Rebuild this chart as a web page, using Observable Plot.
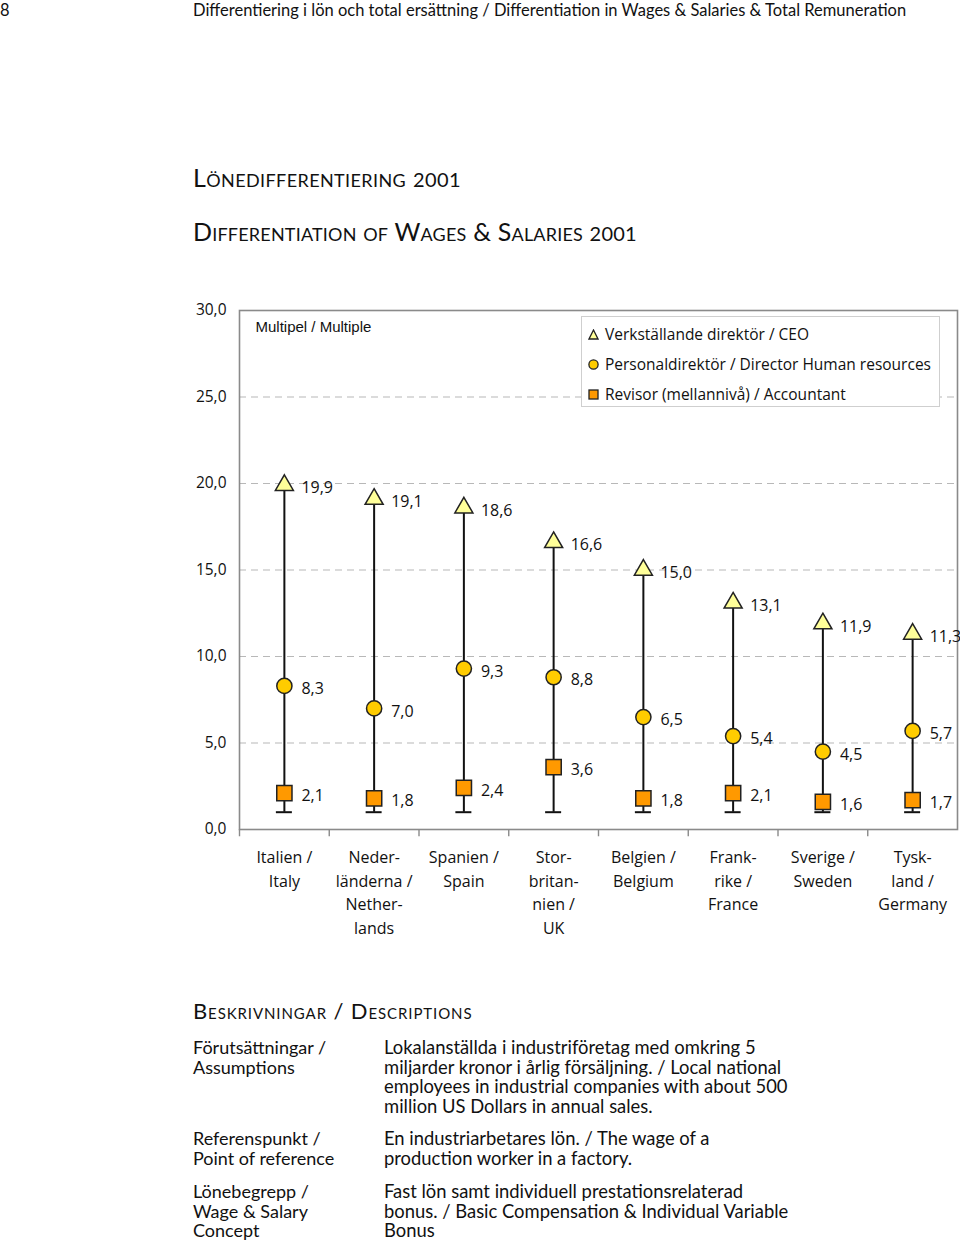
<!DOCTYPE html>
<html><head><meta charset="utf-8">
<script src="https://cdn.jsdelivr.net/npm/d3@7"></script>
<script src="https://cdn.jsdelivr.net/npm/@observablehq/plot@0.6"></script>
<style>
body{margin:0;background:#fff;}
#page{position:relative;width:960px;height:1245px;overflow:hidden;font-family:Lato,"Open Sans",sans-serif;color:#111;}
.abs{position:absolute;white-space:nowrap;}
.sc{font-variant:small-caps;}
.num{font-size:0.8em;}
#legend{position:absolute;left:581px;top:316px;width:357px;height:89px;border:1px solid #cfcfcf;background:#fff;font-family:"Open Sans",sans-serif;font-size:15.5px;}
#legend div{position:absolute;left:6px;display:flex;align-items:center;white-space:nowrap;}
#legend svg{margin-right:6px;}
.dl{position:absolute;left:193px;font-size:18px;line-height:19.6px;}
.dr{position:absolute;left:384px;font-size:18.4px;line-height:19.6px;}
</style></head>
<body><div id="page">
<div class="abs" style="left:0;top:1px;font-size:16.5px;line-height:19px;">8</div>
<div class="abs" style="left:193px;top:1px;font-size:16.5px;line-height:19px;">Differentiering i lön och total ersättning / Differentiation in Wages &amp; Salaries &amp; Total Remuneration</div>
<div class="abs sc" style="left:193px;top:163px;font-size:25px;line-height:28px;letter-spacing:0.4px;">Lönedifferentiering <span class="num">2001</span></div>
<div class="abs sc" style="left:193px;top:217px;font-size:25px;line-height:28px;letter-spacing:0.2px;">Differentiation of Wages &amp; Salaries <span class="num">2001</span></div>
<div id="chart" style="position:absolute;left:0;top:290px;"></div>
<div id="legend"></div>
<div class="abs sc" style="left:193px;top:998px;font-size:22px;line-height:25px;letter-spacing:0.9px;">Beskrivningar / Descriptions</div>
<div class="dl" style="top:1038px;">Förutsättningar /<br>Assumptions</div>
<div class="dr" style="top:1038px;">Lokalanställda i industriföretag med omkring 5<br>miljarder kronor i årlig försäljning. / Local national<br>employees in industrial companies with about 500<br>million US Dollars in annual sales.</div>
<div class="dl" style="top:1129px;">Referenspunkt /<br>Point of reference</div>
<div class="dr" style="top:1129px;">En industriarbetares lön. / The wage of a<br>production worker in a factory.</div>
<div class="dl" style="top:1182px;">Lönebegrepp /<br>Wage &amp; Salary<br>Concept</div>
<div class="dr" style="top:1182px;">Fast lön samt individuell prestationsrelaterad<br>bonus. / Basic Compensation &amp; Individual Variable<br>Bonus</div>
</div>
<script>
const countries = ["Italien","Nederländerna","Spanien","Storbritannien","Belgien","Frankrike","Sverige","Tyskland"];
const countryLabels = ["Italien /\nItaly","Neder-\nländerna /\nNether-\nlands","Spanien /\nSpain","Stor-\nbritan-\nnien /\nUK","Belgien /\nBelgium","Frank-\nrike /\nFrance","Sverige /\nSweden","Tysk-\nland /\nGermany"];
const ceo = [19.9,19.1,18.6,16.6,15.0,13.1,11.9,11.3];
const hr = [8.3,7.0,9.3,8.8,6.5,5.4,4.5,5.7];
const accountant = [2.1,1.8,2.4,3.6,1.8,2.1,1.6,1.7];
const reference = [1,1,1,1,1,1,1,1];
const yTicks = [0,5,10,15,20,25,30];
const gridValues = [5,10,15,20,25];
const seriesNames = ["Verkställande direktör / CEO","Personaldirektör / Director Human resources","Revisor (mellannivå) / Accountant"];

const data = countries.map((c,i)=>({country:c, ceo:ceo[i], hr:hr[i], acc:accountant[i], low:reference[i]}));
const fmt = v => v.toFixed(1).replace(".", ",");
const labelOf = new Map(countries.map((c,i)=>[c,countryLabels[i]]));

const W = 960, H = 660, mL = 239, mR = 3, mT = 20, mB = 121;
const bw = (W - mL - mR) / countries.length;
const font = "'Open Sans', sans-serif";

const plot = Plot.plot({
  width: W, height: H,
  marginLeft: mL, marginRight: mR, marginTop: mT, marginBottom: mB,
  style: {fontFamily: font, fontSize: "15px", color: "#111", overflow: "visible", background: "transparent"},
  x: {type: "band", domain: countries, padding: 0, round: false},
  y: {domain: [0, 30]},
  marks: [
    Plot.ruleY(gridValues, {stroke: "#b8b8b8", strokeWidth: 1.2, strokeDasharray: "7,5"}),
    Plot.frame({stroke: "#8a8a8a", strokeWidth: 1.6}),
    Plot.ruleX(countries, {x: d => d, dx: -bw/2, y1: 0, y2: -0.42, stroke: "#8a8a8a", strokeWidth: 1.4}),
    Plot.axisY({ticks: yTicks, tickFormat: fmt, tickSize: 0, tickPadding: 13, fontSize: 15.5, label: null}),
    Plot.axisX({tickSize: 0, tickPadding: 17, tickFormat: d => labelOf.get(d), fontSize: 16, lineHeight: 1.47, label: null}),
    Plot.text(["Multipel / Multiple"], {frameAnchor: "top-left", dx: 16, dy: 11, textAnchor: "start", lineAnchor: "top", fontFamily: "'Liberation Sans', Arial, sans-serif", fontSize: 15, letterSpacing: -0.6, fill: "#111"}),
    Plot.ruleX(data, {x: "country", y1: "low", y2: "ceo", stroke: "#111", strokeWidth: 2}),
    Plot.tickY(data, {x: "country", y: "low", stroke: "#111", strokeWidth: 2, insetLeft: bw/2 - 8, insetRight: bw/2 - 8}),
    Plot.dot(data, {x: "country", y: "acc", symbol: "square", r: 8.6, fill: "#FF9900", stroke: "#222", strokeWidth: 1.5}),
    Plot.dot(data, {x: "country", y: "hr", symbol: "circle", r: 7.6, fill: "#FFCC00", stroke: "#222", strokeWidth: 1.5}),
    Plot.dot(data, {x: "country", y: "ceo", symbol: "triangle", r: 6.7, fill: "#FFFF99", stroke: "#222", strokeWidth: 1.5}),
    Plot.text(data, {x: "country", y: "ceo", text: d => fmt(d.ceo), dx: 17, dy: 3, textAnchor: "start", fontSize: 16, fill: "#111"}),
    Plot.text(data, {x: "country", y: "hr", text: d => fmt(d.hr), dx: 17, dy: 3, textAnchor: "start", fontSize: 16, fill: "#111"}),
    Plot.text(data, {x: "country", y: "acc", text: d => fmt(d.acc), dx: 17, dy: 3, textAnchor: "start", fontSize: 16, fill: "#111"})
  ]
});
document.getElementById("chart").appendChild(plot);

// legend
const lg = document.getElementById("legend");
const syms = [
  '<svg width="11" height="11"><path d="M5.5,1 L10,10 L1,10 Z" fill="#FFFF99" stroke="#222" stroke-width="1.3"/></svg>',
  '<svg width="11" height="11"><circle cx="5.5" cy="5.5" r="4.6" fill="#FFCC00" stroke="#222" stroke-width="1.3"/></svg>',
  '<svg width="11" height="11"><rect x="1" y="1" width="9" height="9" fill="#FF9900" stroke="#222" stroke-width="1.3"/></svg>'
];
seriesNames.forEach((n,i)=>{
  const d = document.createElement("div");
  d.style.top = (6 + i*30) + "px";
  d.innerHTML = syms[i] + "<span>" + n + "</span>";
  lg.appendChild(d);
});
</script>
</body></html>
